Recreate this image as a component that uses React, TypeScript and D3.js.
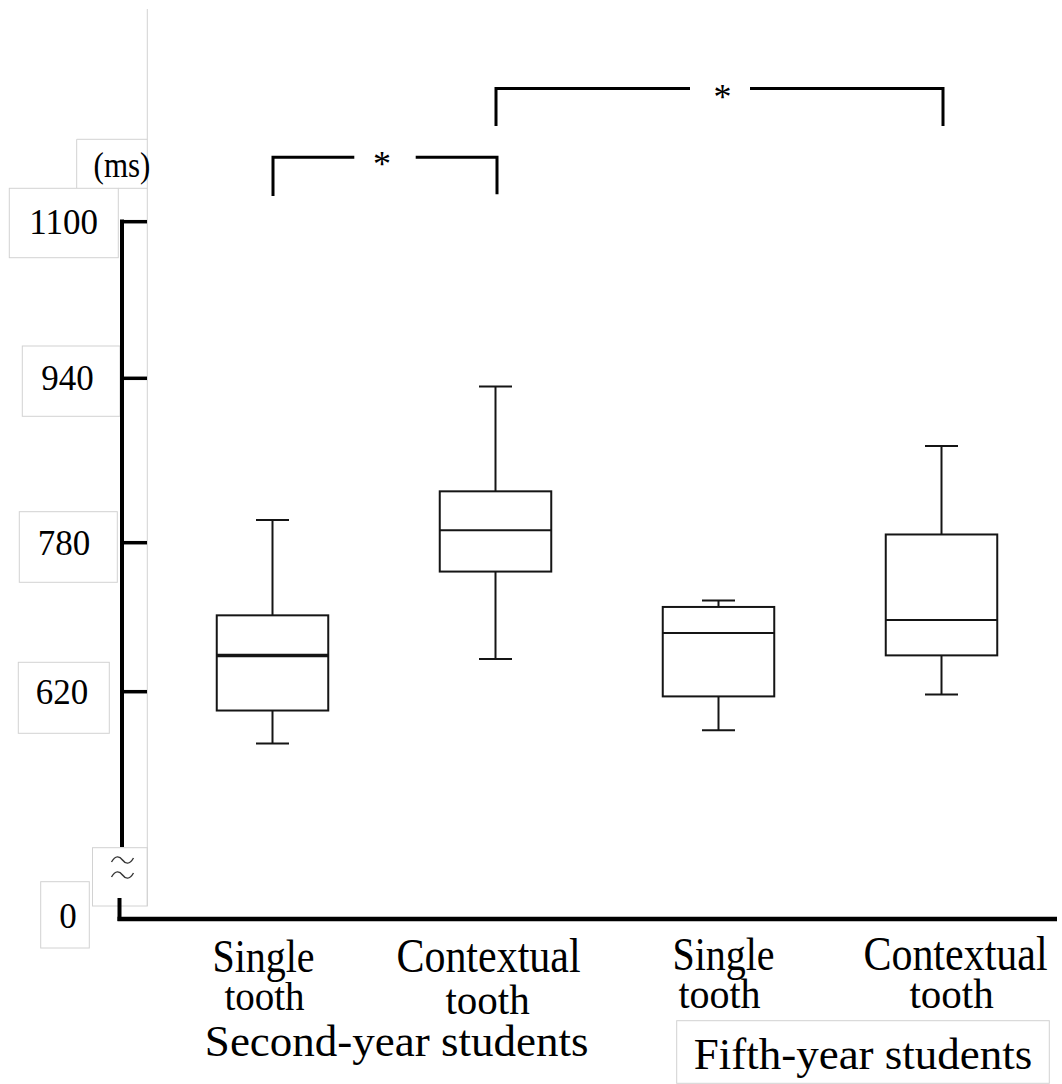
import React from "react";
import * as d3 from "d3";

// ---- data ----
const categories = ["Single tooth", "Contextual tooth", "Single tooth", "Contextual tooth"];
const groups = ["Second-year students", "Fifth-year students"];
const whiskerLow = [565, 655, 579, 617];
const q1 = [600, 749, 615, 659];
const median = [659, 792, 683, 697];
const q3 = [702, 830, 711, 788];
const whiskerHigh = [802, 932, 718, 874];
const yTicks = [620, 780, 940, 1100];
const yTickLabels = ["0", "620", "780", "940", "1100"];
const yLabelValues = [0, 620, 780, 940, 1100];
const comparisons: [number, number][] = [[0, 1], [1, 3]];
const sigLabel = "*";
const unit = "(ms)";
const axisBreak = [23, 455];

const W = 1062;
const H = 1084;
const FONT = "'Liberation Serif', 'Times New Roman', serif";
const GRID = "#d2d2d2";
const INK = "#151515";

export default function App() {
  const x = d3
    .scaleBand<number>()
    .domain(d3.range(categories.length))
    .range([161, 1053])
    .paddingInner(0.5)
    .paddingOuter(0.25);
  const y = d3
    .scaleLinear()
    .domain([0, axisBreak[0], axisBreak[1], 620, 780, 940, 1100])
    .range([919, 898, 847, 691.7, 542.7, 378.3, 221.7]);
  const cx = (i: number) => (x(i) as number) + x.bandwidth() / 2;
  const bw = x.bandwidth();
  const capHalf = 16.5;
  const axisX = 122;

  // light text-box outlines (layout of the original figure)
  const labelBoxes = [
    { x0: 40.7, x1: 89.3, y0: 881.7, y1: 948, cx: 68 },
    { x0: 18.3, x1: 109.3, y0: 662.3, y1: 733.3, cx: 62 },
    { x0: 19.3, x1: 117.3, y0: 511.7, y1: 582.3, cx: 64 },
    { x0: 22.3, x1: 120, y0: 346, y1: 416.3, cx: 67.5 },
    { x0: 9.3, x1: 118.3, y0: 188.3, y1: 257.7, cx: 63.7 },
  ];

  // per-line layout of the two-line category labels
  const catLayout = [
    { dx: [-9, -8], by: [972, 1010], fs: [40, 39], sy: [1.14, 1.05] },
    { dx: [-7, -8], by: [972, 1014], fs: [42, 41], sy: [1.14, 1.05] },
    { dx: [5, 1], by: [970, 1008], fs: [40, 40], sy: [1.14, 1.05] },
    { dx: [14, 10], by: [970, 1008], fs: [42, 41], sy: [1.14, 1.05] },
  ];

  const brackets = [
    { top: 157.3, legBottom: [196, 194.3], gap: [354.3, 415.7], starX: 382, starY: 176 },
    { top: 88.5, legBottom: [126, 126], gap: [690, 750], starX: 722.5, starY: 109 },
  ];

  const tilde = (x0: number, yc: number) =>
    `M${x0},${yc + 2} C${x0 + 4},${yc - 5} ${x0 + 8},${yc - 4} ${x0 + 11},${yc} S${x0 + 18},${yc + 5} ${x0 + 22},${yc - 2}`;

  return (
    <svg
      width={W}
      height={H}
      style={{ position: "absolute", left: 0, top: 0, background: "#fff" }}
      fontFamily={FONT}
    >
      <rect x={0} y={0} width={W} height={H} fill="#fff" />
      {/* faint text-box outlines */}
      <g stroke={GRID} strokeWidth={1} fill="none">
        <line x1={147.3} y1={9} x2={147.3} y2={906} />
        <path d="M76.7,188.3 L76.7,139.3 L147.3,139.3" />
        <line x1={118.3} y1={188.3} x2={147.3} y2={188.3} />
        <rect x={92.5} y={847.7} width={147.3 - 92.5} height={906 - 847.7} />
        {labelBoxes.map((b, i) => (
          <rect key={i} x={b.x0} y={b.y0} width={b.x1 - b.x0} height={b.y1 - b.y0} fill="#fff" />
        ))}
        <rect x={676.7} y={1020.7} width={1049.3 - 676.7} height={1083.3 - 1020.7} />
      </g>

      {/* axes */}
      <g stroke="#000" fill="none" strokeLinecap="butt">
        <line x1={axisX} y1={219.5} x2={axisX} y2={y(axisBreak[1])} strokeWidth={4} />
        <line x1={119.5} y1={y(axisBreak[0])} x2={119.5} y2={921} strokeWidth={4} />
        <line x1={117.5} y1={919} x2={1057} y2={919} strokeWidth={4.5} />
        {yTicks.map((t) => (
          <line key={t} x1={axisX} y1={y(t)} x2={147} y2={y(t)} strokeWidth={3.5} />
        ))}
      </g>

      {/* axis break */}
      <g stroke="#333" strokeWidth={1.4} fill="none">
        <path d={tilde(111.5, 860)} />
        <path d={tilde(111.5, 875)} />
      </g>

      {/* tick labels */}
      <g fontSize={35} fill="#000" textAnchor="middle">
        {yLabelValues.map((v, i) => (
          <text key={v} x={labelBoxes[i].cx} y={v === 0 ? 928.3 : y(v) + 12}>
            {yTickLabels[i]}
          </text>
        ))}
        <text transform="translate(122,177) scale(1,1.15)" fontSize={31}>
          {unit}
        </text>
      </g>

      {/* boxplots */}
      <g stroke={INK} fill="none" strokeWidth={2}>
        {categories.map((c, i) => {
          const c0 = cx(i);
          const x0 = x(i) as number;
          return (
            <g key={i}>
              <line x1={c0} y1={y(whiskerHigh[i])} x2={c0} y2={y(q3[i])} />
              <line x1={c0} y1={y(q1[i])} x2={c0} y2={y(whiskerLow[i])} />
              <line x1={c0 - capHalf} y1={y(whiskerHigh[i])} x2={c0 + capHalf} y2={y(whiskerHigh[i])} />
              <line x1={c0 - capHalf} y1={y(whiskerLow[i])} x2={c0 + capHalf} y2={y(whiskerLow[i])} />
              <rect x={x0} y={y(q3[i])} width={bw} height={y(q1[i]) - y(q3[i])} fill="#fff" />
              <line
                x1={x0}
                y1={y(median[i])}
                x2={x0 + bw}
                y2={y(median[i])}
                strokeWidth={i === 0 ? 3.5 : 2}
              />
            </g>
          );
        })}
      </g>

      {/* significance brackets */}
      <g stroke="#000" strokeWidth={3} fill="none">
        {comparisons.map(([a, b], k) => {
          const br = brackets[k];
          const xa = cx(a) + 0.5;
          const xb = cx(b) + 1.5;
          return (
            <g key={k}>
              <path d={`M${xa},${br.legBottom[0]} L${xa},${br.top} L${br.gap[0]},${br.top}`} />
              <path d={`M${br.gap[1]},${br.top} L${xb},${br.top} L${xb},${br.legBottom[1]}`} />
            </g>
          );
        })}
      </g>
      <g fontSize={36} textAnchor="middle" fill="#000">
        {comparisons.map((_, k) => {
          const br = brackets[k];
          return (
            <text key={k} x={br.starX} y={br.starY}>
              {sigLabel}
            </text>
          );
        })}
      </g>

      {/* category labels (two lines each) */}
      <g textAnchor="middle" fill="#000">
        {categories.map((c, i) => {
          const l = catLayout[i];
          const words = c.split(" ");
          return words.map((w, j) => (
            <text
              key={i + "-" + j}
              fontSize={l.fs[j]}
              transform={`translate(${cx(i) + l.dx[j]},${l.by[j]}) scale(1,${l.sy[j]})`}
            >
              {w}
            </text>
          ));
        })}
      </g>

      {/* group labels */}
      <g fontSize={45} textAnchor="middle" fill="#000">
        <text x={396.7} y={1056}>
          {groups[0]}
        </text>
        <text x={863} y={1069}>
          {groups[1]}
        </text>
      </g>
    </svg>
  );
}
